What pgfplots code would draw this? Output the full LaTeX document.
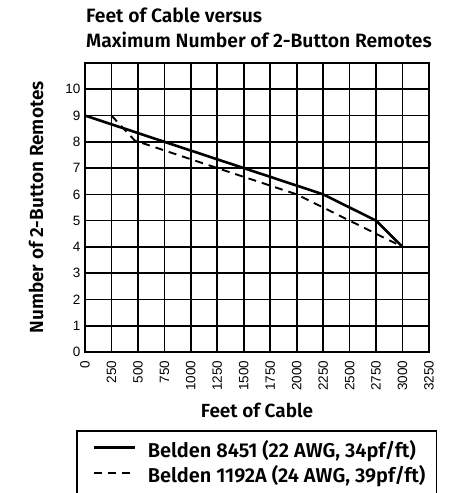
\documentclass[border=0pt]{standalone}
\usepackage{fontspec}
\setmainfont{Fira Sans}[BoldFont={Fira Sans SemiBold}]
\newfontfamily\tickfont{Liberation Sans}
\usepackage{pgfplots}
\pgfplotsset{compat=1.18}
\begin{document}
\begin{tikzpicture}
\begin{axis}[
  scale only axis, width=344pt, height=289pt,
  xmin=0, xmax=3250, ymin=0, ymax=11,
  xtick={0,250,...,3250}, ytick={0,1,...,10},
  grid=major, major grid style={black, line width=1.7pt},
  axis line style={black, line width=1.7pt},
  major tick length=0pt,
  /pgf/number format/assume math mode=true,
  /pgf/number format/1000 sep={},
  ticklabel style={font=\tickfont\fontsize{13.5}{13.5}\selectfont},
  xticklabel style={rotate=90, anchor=east},
  xticklabel shift=5pt,
  yticklabel shift=1pt,
  xlabel={Feet of Cable},
  ylabel={Number of 2-Button Remotes},
  label style={font=\bfseries\fontsize{19}{19}\selectfont},
  xlabel style={at={(axis description cs:0.5,-0.225)}, anchor=base},
  ylabel style={at={(axis description cs:-0.142,0.5)}, anchor=center},
  title={Feet of Cable versus\\Maximum Number of 2-Button Remotes},
  title style={at={(axis description cs:0.003,1.172)}, anchor=north west, align=left, inner sep=0pt, font=\bfseries\fontsize{19.3}{25}\selectfont},
  legend style={at={(axis description cs:-0.026,-0.27)}, anchor=north west, draw=black, line width=1.5pt,
    font=\bfseries\fontsize{20}{20}\selectfont, inner xsep=11pt, inner ysep=13pt, row sep=7pt,
    nodes={inner xsep=0pt, inner ysep=0pt, text height=14pt, text depth=4pt}},
  legend cell align=left,
  legend image code/.code={\path[draw=none,fill=none] (0pt,-4pt) rectangle (60pt,4pt); \draw[#1] (6pt,5pt) -- (47pt,5pt);},
]
\addplot[black, line width=2.6pt] coordinates {(0,9) (750,8) (1500,7) (2250,6) (2750,5) (3000,4)};
\addlegendentry{Belden 8451 (22 AWG, 34pf/ft)}
\addplot[black, line width=1.9pt, dash pattern=on 8pt off 6pt] coordinates {(250,9) (470,8.05) (1250,7) (2000,6) (2500,5) (3000,4)};
\addlegendentry{Belden 1192A (24 AWG, 39pf/ft)}
\coordinate (LL) at (rel axis cs:0,0);
\coordinate (UR) at (rel axis cs:1,1);
\end{axis}
\pgfresetboundingbox
\path[use as bounding box] ([shift={(-85pt,-141pt)}]LL) rectangle ([shift={(20pt,63pt)}]UR);
\end{tikzpicture}
\end{document}
